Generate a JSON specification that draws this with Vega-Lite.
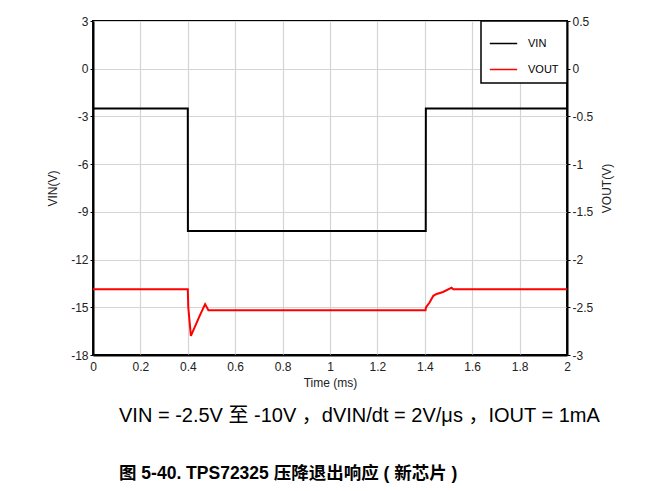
{
  "$schema": "https://vega.github.io/schema/vega-lite/v6.json",
  "width": 474,
  "height": 334,
  "autosize": {"type": "none"},
  "padding": {"left": 93, "top": 21, "right": 97, "bottom": 136},
  "background": "white",
  "config": {
    "font": "Liberation Sans",
    "view": {"stroke": "black", "strokeWidth": 2},
    "axis": {
      "labelFont": "Liberation Sans",
      "titleFont": "Liberation Sans",
      "labelFontSize": 12,
      "titleFontSize": 12,
      "titleFontWeight": "normal",
      "labelColor": "#222",
      "titleColor": "#222",
      "domainColor": "black",
      "domainWidth": 2,
      "tickColor": "black",
      "tickSize": 3,
      "gridColor": "#d4d4d4",
      "gridWidth": 1.2,
      "labelExpr": "toString(datum.value)"
    }
  },
  "title": {
    "text": "VIN = -2.5V 至 -10V ，dVIN/dt = 2V/μs ，IOUT = 1mA",
    "subtitle": "图 5-40. TPS72325 压降退出响应 ( 新芯片 )",
    "orient": "bottom",
    "anchor": "start",
    "frame": "group",
    "dx": 26,
    "offset": 18,
    "font": "Liberation Sans, Noto Sans CJK SC",
    "fontSize": 20,
    "fontWeight": "normal",
    "color": "black",
    "subtitleFont": "Liberation Sans, Noto Sans CJK SC",
    "subtitleFontSize": 17.5,
    "subtitleFontWeight": "bold",
    "subtitleColor": "black",
    "subtitlePadding": 39
  },
  "data": {
    "values": [
      {"t": 0, "v": -2.5, "s": "VIN"},
      {"t": 0.4, "v": -2.5, "s": "VIN"},
      {"t": 0.4005, "v": -10.2, "s": "VIN"},
      {"t": 1.404, "v": -10.2, "s": "VIN"},
      {"t": 1.4045, "v": -2.5, "s": "VIN"},
      {"t": 2, "v": -2.5, "s": "VIN"},
      {"t": 0, "v": -2.31, "s": "VOUT"},
      {"t": 0.4, "v": -2.31, "s": "VOUT"},
      {"t": 0.402, "v": -2.5, "s": "VOUT"},
      {"t": 0.413, "v": -2.8, "s": "VOUT"},
      {"t": 0.42, "v": -2.76, "s": "VOUT"},
      {"t": 0.45, "v": -2.59, "s": "VOUT"},
      {"t": 0.473, "v": -2.467, "s": "VOUT"},
      {"t": 0.487, "v": -2.53, "s": "VOUT"},
      {"t": 1.0, "v": -2.53, "s": "VOUT"},
      {"t": 1.403, "v": -2.53, "s": "VOUT"},
      {"t": 1.405, "v": -2.5, "s": "VOUT"},
      {"t": 1.42, "v": -2.45, "s": "VOUT"},
      {"t": 1.436, "v": -2.38, "s": "VOUT"},
      {"t": 1.45, "v": -2.36, "s": "VOUT"},
      {"t": 1.477, "v": -2.34, "s": "VOUT"},
      {"t": 1.513, "v": -2.295, "s": "VOUT"},
      {"t": 1.52, "v": -2.31, "s": "VOUT"},
      {"t": 2, "v": -2.31, "s": "VOUT"}
    ]
  },
  "encoding": {
    "x": {
      "field": "t",
      "type": "quantitative",
      "scale": {"domain": [0, 2], "nice": false},
      "axis": {"values": [0, 0.2, 0.4, 0.6, 0.8, 1, 1.2, 1.4, 1.6, 1.8, 2], "title": "Time (ms)", "titlePadding": 5, "labelPadding": 6, "labelFlush": false, "ticks": false}
    },
    "color": {
      "field": "s",
      "type": "nominal",
      "scale": {"domain": ["VIN", "VOUT"], "range": ["black", "#ff0000"]},
      "legend": {
        "title": null,
        "orient": "top-right",
        "offset": 0,
        "symbolType": "stroke",
        "symbolSize": 750,
        "symbolStrokeWidth": 1.5,
        "labelFont": "Liberation Sans",
        "labelFontSize": 11,
        "labelColor": "black",
        "labelOffset": 10,
        "rowPadding": 6,
        "padding": 8,
        "strokeColor": "black",
        "fillColor": "white",
        "encode": {"legend": {"update": {"strokeWidth": {"value": 1.5}}}}
      }
    }
  },
  "layer": [
    {
      "transform": [{"filter": "datum.s === 'VIN'"}],
      "mark": {"type": "line", "strokeWidth": 2},
      "encoding": {
        "y": {
          "field": "v",
          "type": "quantitative",
          "scale": {"domain": [-18, 3], "nice": false},
          "axis": {"orient": "left", "values": [3, 0, -3, -6, -9, -12, -15, -18], "title": "VIN(V)", "titlePadding": 11, "labelPadding": 2}
        }
      }
    },
    {
      "transform": [{"filter": "datum.s === 'VOUT'"}],
      "mark": {"type": "line", "strokeWidth": 2},
      "encoding": {
        "y": {
          "field": "v",
          "type": "quantitative",
          "scale": {"domain": [-3, 0.5], "nice": false},
          "axis": {"orient": "right", "grid": false, "values": [0.5, 0, -0.5, -1, -1.5, -2, -2.5, -3], "title": "VOUT(V)", "titleAngle": 270, "titleBaseline": "top", "titlePadding": 9, "labelPadding": 2}
        }
      }
    }
  ],
  "resolve": {"scale": {"y": "independent"}}
}
